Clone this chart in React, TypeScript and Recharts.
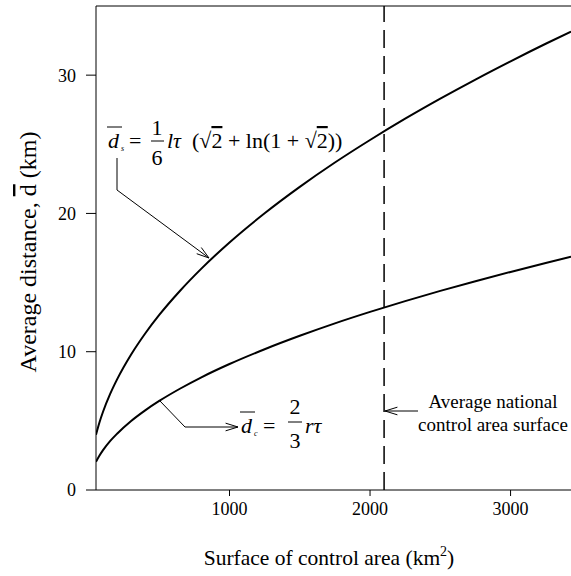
import React from "react";
import { LineChart, Line, XAxis, YAxis, ReferenceLine } from "recharts";

// surface of control area (km²)
const area = [50, 75, 100, 150, 200, 300, 400, 500, 650, 800, 1000, 1250, 1500, 1750, 2000, 2250, 2500, 2750, 3000, 3250, 3430];
// square control area, d_s (km)
const squareDist = [4.0, 4.9, 5.66, 6.93, 8.0, 9.8, 11.32, 12.66, 14.43, 16.01, 17.9, 20.01, 21.92, 23.68, 25.31, 26.85, 28.3, 29.68, 31.0, 32.27, 33.15];
// circular control area, d_c (km)
const circleDist = [2.04, 2.49, 2.88, 3.53, 4.07, 4.99, 5.76, 6.44, 7.34, 8.15, 9.11, 10.18, 11.15, 12.05, 12.88, 13.66, 14.4, 15.1, 15.77, 16.42, 16.87];

const xTicks = [1000, 2000, 3000];
const yTicks = [0, 10, 20, 30];
const nationalAverage = 2100;

const data = area.map((a, i) => ({ area: a, ds: squareDist[i], dc: circleDist[i] }));

const FONT = "'Liberation Serif', 'Times New Roman', serif";

function Arrow({ x1, y1, x2, y2 }: { x1: number; y1: number; x2: number; y2: number }) {
  // open arrowhead at (x2, y2)
  const ang = Math.atan2(y2 - y1, x2 - x1);
  const len = 13;
  const spread = 0.3;
  const a = { x: x2 - len * Math.cos(ang - spread), y: y2 - len * Math.sin(ang - spread) };
  const b = { x: x2 - len * Math.cos(ang + spread), y: y2 - len * Math.sin(ang + spread) };
  return (
    <g stroke="#000" strokeWidth={1} fill="none">
      <line x1={x1} y1={y1} x2={x2} y2={y2} />
      <polyline points={`${a.x},${a.y} ${x2},${y2} ${b.x},${b.y}`} />
    </g>
  );
}

function Overlay() {
  return (
    <svg width={571} height={576} style={{ position: "absolute", left: 0, top: 0, pointerEvents: "none" }} fontFamily={FONT}>
      {/* y axis title */}
      <text transform="translate(36,252) rotate(-90)" textAnchor="middle" fontSize={24}>
        Average distance, <tspan textDecoration="overline">d</tspan> (km)
      </text>

      {/* d_s formula */}
      <g fontSize={22}>
        <text x={108} y={148} fontStyle="italic">d</text>
        <line x1={107} y1={127} x2={122} y2={127} stroke="#000" />
        <text x={121} y={151} fontSize={8} fontStyle="italic">s</text>
        <text x={129} y={148}>=</text>
        <text x={157} y={135} textAnchor="middle">1</text>
        <line x1={151} y1={141} x2={164} y2={141} stroke="#000" />
        <text x={157} y={165} textAnchor="middle">6</text>
        <text x={167} y={148} fontStyle="italic">lτ</text>
        <text x={192} y={148}>
          (√<tspan textDecoration="overline">2</tspan> + ln(1 + √<tspan textDecoration="overline">2</tspan>))
        </text>
      </g>
      <polyline points="117,158 117,190" stroke="#000" fill="none" />
      <Arrow x1={117} y1={190} x2={209} y2={258} />

      {/* d_c formula */}
      <g fontSize={22}>
        <text x={241} y={433} fontStyle="italic">d</text>
        <line x1={240} y1={412} x2={255} y2={412} stroke="#000" />
        <text x={254} y={436} fontSize={8} fontStyle="italic">c</text>
        <text x={263} y={433}>=</text>
        <text x={295} y={414} textAnchor="middle">2</text>
        <line x1={288} y1={422} x2={302} y2={422} stroke="#000" />
        <text x={295} y={448} textAnchor="middle">3</text>
        <text x={305} y={433} fontStyle="italic">rτ</text>
      </g>
      <polyline points="160,401 185,427" stroke="#000" fill="none" />
      <Arrow x1={185} y1={427} x2={238} y2={427} />

      {/* national average note */}
      <Arrow x1={418} y1={411} x2={385} y2={411} />
      <g fontSize={19} textAnchor="middle">
        <text x={493} y={408}>Average national</text>
        <text x={493} y={431}>control area surface</text>
      </g>

      {/* x axis title */}
      <text x={329} y={565} textAnchor="middle" fontSize={21.5}>
        Surface of control area (km<tspan dy={-9} fontSize={14}>2</tspan><tspan dy={9}>)</tspan>
      </text>
    </svg>
  );
}

export default function App() {
  return (
    <div style={{ position: "relative", width: 571, height: 576, background: "#fff", fontFamily: FONT }}>
      <style>{"body{margin:0}"}</style>
      <LineChart width={571} height={576} data={data} margin={{ top: 6, right: 0, bottom: 0, left: 0 }}>
        <XAxis
          dataKey="area"
          type="number"
          domain={[50, 3430]}
          ticks={xTicks}
          allowDataOverflow
          height={86}
          tickSize={6}
          tickMargin={6}
          stroke="#000"
          fontFamily={FONT}
          fontSize={18}
          tick={{ fill: "#000", fontSize: 18, fontFamily: FONT }}
        />
        <YAxis
          type="number"
          domain={[0, 35]}
          ticks={yTicks}
          width={96}
          tickSize={10}
          tickMargin={10}
          stroke="#000"
          fontFamily={FONT}
          fontSize={18}
          tick={{ fill: "#000", fontSize: 18, fontFamily: FONT }}
        />
        <ReferenceLine y={35} stroke="#000" />
        <ReferenceLine x={nationalAverage} stroke="#000" strokeWidth={1.5} strokeDasharray="18 8" />
        <Line type="monotone" dataKey="ds" stroke="#000" strokeWidth={2} dot={false} isAnimationActive={false} />
        <Line type="monotone" dataKey="dc" stroke="#000" strokeWidth={2} dot={false} isAnimationActive={false} />
      </LineChart>
      <Overlay />
    </div>
  );
}
